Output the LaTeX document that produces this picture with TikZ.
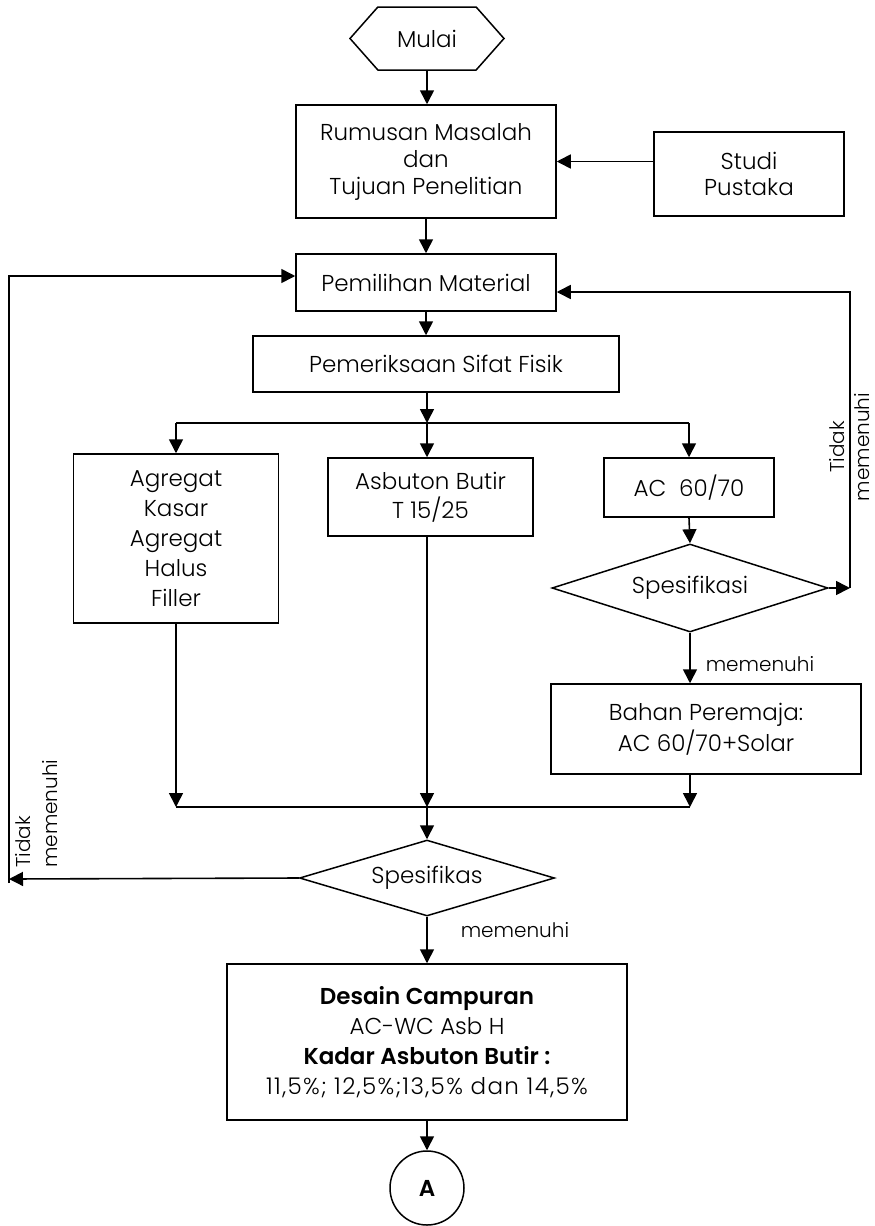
\documentclass[tikz,border=0pt]{standalone}
\usepackage{fontspec}
\setmainfont{Poppins}[UprightFont=* Light, BoldFont=* SemiBold]
\usetikzlibrary{arrows.meta,shapes.geometric,shapes.symbols}

\tikzset{
  teks/.style={font=\fontsize{23}{29}\selectfont},
  kotak/.style={draw, line width=1.5pt, align=center, inner sep=0pt, teks},
  mulaibox/.style={draw, line width=1.5pt, signal, signal to=east and west,
    signal pointer angle=97, inner sep=0pt, minimum width=154, minimum height=63, teks},
  belah/.style={draw, line width=1.5pt, diamond, shape aspect=3, inner sep=0pt, teks},
  bulat/.style={draw, line width=1.5pt, circle, inner sep=0pt, minimum size=74, teks},
  panah/.style={line width=1.6pt, -{Triangle[length=14pt,width=14pt]}},
  garis/.style={line width=1.6pt},
  ket/.style={inner sep=0pt, align=left, font=\fontsize{20}{27}\selectfont}
}

\begin{document}
\begin{tikzpicture}[x=1pt,y=-1pt]
\useasboundingbox (0,0) rectangle (875,1226);
% simpul
\node[mulaibox] (mulai) at (427,38.5) {Mulai};
\node[kotak, minimum width=260, minimum height=113, font=\fontsize{23}{27}\selectfont] (rumusan) at (426,161.5) {Rumusan Masalah\\dan\\Tujuan Penelitian};
\node[kotak, minimum width=190, minimum height=84, font=\fontsize{23}{26}\selectfont] (studi) at (749,174) {Studi\\Pustaka};
\node[kotak, minimum width=260, minimum height=57] (pemilihan) at (426,282.5) {Pemilihan Material};
\node[kotak, minimum width=366, minimum height=56] (periksa) at (436,364) {Pemeriksaan Sifat Fisik};
\node[kotak, minimum width=205, minimum height=169, font=\fontsize{23}{30}\selectfont] (agregat) at (176,538.5) {Agregat\\Kasar\\Agregat\\Halus\\Filler};
\node[kotak, minimum width=205, minimum height=78] (asbuton) at (430.5,497) {Asbuton Butir\\T 15/25};
\node[kotak, minimum width=170, minimum height=59] (ac) at (689,487.5) {AC\ \ 60/70};
\node[belah, minimum width=276, minimum height=88] (spek1) at (690,588) {Spesifikasi};
\node[kotak, minimum width=310, minimum height=90, font=\fontsize{23}{31}\selectfont] (bahan) at (706,729) {Bahan Peremaja:\\AC 60/70+Solar};
\node[belah, minimum width=255, minimum height=76] (spek2) at (427,878) {Spesifikas};
\node[kotak, minimum width=400, minimum height=156, font=\fontsize{23}{30}\selectfont] (desain) at (427,1042) {\textbf{Desain Campuran}\\AC-WC Asb H\\\textbf{Kadar Asbuton Butir :}\\{\addfontfeature{LetterSpace=6}11,5\%; 12,5\%;13,5\% dan 14,5\%}};
\node[bulat] (lingkaran) at (427,1188) {\textbf{A}};

% titik bantu
\coordinate (cabang) at (427,423);
\coordinate (gabung) at (427,807);
\coordinate (kanan) at (850,588);
\coordinate (kananatas) at (850,292);
\coordinate (kiri) at (9,879);
\coordinate (kiriatas) at (9,276);

% penghubung
\draw[panah] (mulai.south) -- (mulai.south |- rumusan.north);
\draw[panah] (rumusan.east -| studi.west) -- (rumusan.east);
\draw[panah] (rumusan.south) -- (pemilihan.north);
\draw[panah] (pemilihan.south) -- (pemilihan.south |- periksa.north);
\draw[panah] (periksa.south -| cabang) -- (cabang);
\draw[garis] (agregat.north |- cabang) -- (ac.north |- cabang);
\draw[panah] (agregat.north |- cabang) -- (agregat.north);
\draw[panah] (cabang) -- (cabang |- asbuton.north);
\draw[panah] (ac.north |- cabang) -- (ac.north);
\draw[panah] (ac.south) -- (spek1.north);
\draw[panah] (spek1.east) -- (kanan);
\draw[panah] (kanan) -- (kananatas) -- (kananatas -| pemilihan.east);
\draw[panah] (spek1.south) -- node[ket, pos=0.62, right=15pt] {memenuhi} (spek1.south |- bahan.north);
\draw[panah] (bahan.south -| spek1.south) -- (spek1.south |- gabung);
\draw[panah] (agregat.south) -- (agregat.south |- gabung);
\draw[panah] (asbuton.south -| gabung) -- (gabung);
\draw[garis] (agregat.south |- gabung) -- (spek1.south |- gabung);
\draw[panah] (gabung) -- (spek2.north);
\draw[panah] (spek2.west) -- (kiri);
\draw[panah] ([yshift=-4pt]kiri) -- (kiriatas) -- (kiriatas -| pemilihan.west);
\draw[panah] (spek2.south) -- node[ket, pos=0.28, right=33pt] {memenuhi} (desain.north);
\draw[panah] (desain.south) -- (lingkaran.north);

% label tidak memenuhi
\node[ket, rotate=90, anchor=north west] (tidakkiri) at (15,868) {Tidak\\memenuhi};
\node[ket, rotate=90, anchor=south, align=center, font=\fontsize{20}{25}\selectfont] (tidakkanan) at (870,447) {Tidak\\memenuhi};
\end{tikzpicture}
\end{document}
